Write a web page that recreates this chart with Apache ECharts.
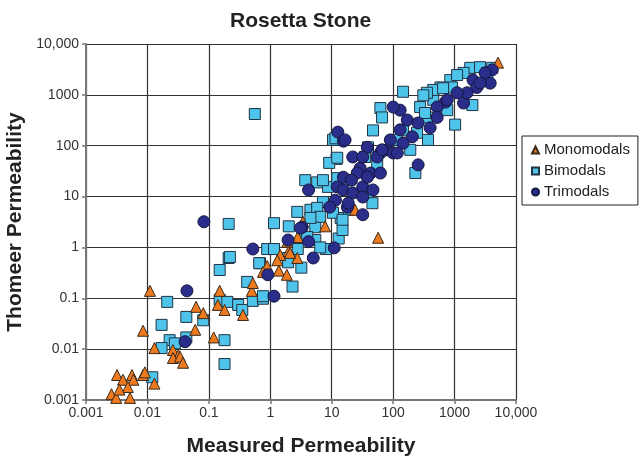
<!DOCTYPE html>
<html>
<head>
<meta charset="utf-8">
<script src="https://cdn.jsdelivr.net/npm/echarts@6/dist/echarts.min.js"></script>
<style>
  html, body { margin: 0; padding: 0; background: #fff; }
  #chart { width: 644px; height: 460px; }
</style>
</head>
<body>
<div id="chart"></div>
<script>
// [measured, thomeer] permeability pairs
const monomodals = [
    [0.0026,0.0013],[0.0031,0.0011],[0.0052,0.0011],[0.0032,0.0031],[0.004,0.0025],[0.0056,0.0031],
    [0.0059,0.0025],[0.0048,0.0018],[0.0085,0.0031],[0.0091,0.0035],[0.013,0.0021],[0.0035,0.0016],
    [0.011,0.14],[0.0085,0.023],[0.013,0.0105],[0.026,0.0096],[0.032,0.0076],[0.026,0.0067],
    [0.034,0.0071],[0.038,0.0054],[0.06,0.024],[0.12,0.017],[0.062,0.068],[0.081,0.051],
    [0.14,0.074],[0.18,0.059],[0.15,0.14],[0.36,0.047],[0.5,0.14],[0.89,0.43],[1.38,0.35],
    [1.86,0.29],[0.52,0.2],[2.75,0.62],[7.8,2.6],[24,5.5],[57,1.55],[5100,4300],[2.8,1.6],
    [2.0,0.85],[1.45,0.71],[1.3,0.56],[0.76,0.33],[2.1,0.78],[3.4,3.2],[1.9,1.3]
];
const bimodals = [
    [0.021,0.085],[0.043,0.043],[0.081,0.037],[0.017,0.03],[0.023,0.015],[0.028,0.013],[0.043,0.017],
    [0.017,0.0105],[0.012,0.0028],[0.18,0.015],[0.18,0.0051],[0.15,0.093],[0.2,0.085],[0.3,0.074],
    [0.35,0.059],[0.52,0.089],[0.76,0.098],[0.21,0.62],[0.15,0.36],[0.68,0.49],[0.42,0.21],
    [0.89,0.93],[1.15,0.93],[0.56,420],
    [0.21,2.9],[1.15,3.0],[2.0,2.6],[5.4,2.5],[2.8,0.93],[5.4,1.4],[8.1,0.93],[13,1.5],[0.22,0.65],
    [0.66,0.49],[1.95,0.62],[3.2,0.4],[2.3,0.17],[0.76,0.11],[12,55],[9.1,46],[10.5,130],[35,60],
    [18,21],[3.7,21],[5.8,19],[8.7,15.5],[38,11],[7.2,7.8],[2.75,5.0],[4.5,5.5],[5.8,6.0],[6.5,4.0],
    [14,3.8],[46,7.4],[10.5,4.8],[4.5,3.8],
    [1950,630],[450,800],[1800,3400],[2600,3500],[1400,2700],[850,1950],[590,1400],[450,1250],
    [355,1100],[910,1400],[145,1150],[1020,260],[760,500],[355,360],[275,575],[62,550],[66,360],
    [47,200],[245,180],[370,130],[190,83],[11.5,140],[12.3,58],[230,29],
    [1100,2450],[650,1350],[310,980],[330,440],[145,200],[115,130],[39,93],[55,42],[7.2,21],
    [12.3,23],[15,2.2],[3.7,1.55],[6.5,1.0],[19,5.5],[15,3.5],[4.0,1.6],[1.95,0.51],[3400,2700],[4100,3400]
];
const trimodals = [
    [0.044,0.14],[0.083,3.2],[0.041,0.014],[0.52,0.93],[0.91,0.29],[1.15,0.11],[3.3,2.5],[1.95,1.4],
    [4.2,1.3],[11,0.98],[5.0,0.62],[15.5,123],[22,60],[62,72],[80,83],[100,72],[38,93],[29,36],
    [26,29],[43,29],[62,29],[4.2,13.5],[12.3,15.5],[15.5,13.5],[22,11.7],[32,15.5],[47,13.5],
    [11.5,8.5],[9.3,6.2],[18,6.2],[32,4.4],[4100,3100],[3150,2700],[3800,1700],[2000,1950],
    [2300,1400],[1400,690],[710,720],[520,575],[520,360],[400,225],[130,500],[100,575],[170,320],
    [130,205],[205,150],[145,112],[90,130],[117,72],[12.6,185],[16.5,130],[55,60],[255,42],[38,24],
    [15.5,24],[18.6,7.4],[2600,1700],[1600,1100],[1100,1100],[760,800],[255,280],[66,83],[32,60],
    [21,21],[32,9.8],[3.1,2.4]
];
const seriesNames = ['Monomodals', 'Bimodals', 'Trimodals'];

function tickLabel(v) {
    if (v >= 9999) return '10,000';
    return String(+v.toPrecision(1));
}

const chart = echarts.init(document.getElementById('chart'));
const font = 'Liberation Sans, Arial, sans-serif';

function logAxis(name, nameGap, labelMargin) {
    return {
        type: 'log',
        logBase: 10,
        min: 0.001,
        max: 10000,
        splitNumber: 7,
        name: name,
        nameLocation: 'middle',
        nameGap: nameGap,
        nameTextStyle: { fontFamily: font, fontSize: 21, fontWeight: 'bold', color: '#222' },
        axisLine: { lineStyle: { color: '#777', width: 2 } },
        axisTick: { show: true, length: 4, lineStyle: { color: '#777', width: 1.5 } },
        minorTick: { show: false },
        axisLabel: { fontFamily: font, fontSize: 14, color: '#333', margin: labelMargin, formatter: tickLabel },
        splitLine: { show: true, lineStyle: { color: '#333', width: 1.2 } }
    };
}

const option = {
    animation: false,
    title: {
        text: 'Rosetta Stone',
        left: 225,
        top: 6,
        textStyle: { fontFamily: font, fontSize: 21, fontWeight: 'bold', color: '#222' }
    },
    grid: { left: 86, right: 128, top: 44, bottom: 60, outerBoundsMode: 'none' },
    legend: {
        data: seriesNames,
        orient: 'vertical',
        left: 522,
        top: 136,
        padding: [6, 8, 5, 9],
        itemGap: 5,
        itemWidth: 7,
        itemHeight: 7,
        borderColor: '#222',
        borderWidth: 1,
        backgroundColor: '#fff',
        textStyle: { fontFamily: font, fontSize: 15, color: '#222', lineHeight: 16 }
    },
    xAxis: logAxis('Measured Permeability', 36, 6),
    yAxis: logAxis('Thomeer Permeability', 54, 7),
    series: [
        {
            name: 'Bimodals',
            type: 'scatter',
            symbol: 'rect',
            symbolSize: 11,
            data: bimodals,
            itemStyle: { color: '#4fc4ea', borderColor: '#223344', borderWidth: 1, opacity: 1 }
        },
        {
            name: 'Monomodals',
            type: 'scatter',
            symbol: 'triangle',
            symbolSize: 11,
            data: monomodals,
            itemStyle: { color: '#ee7a1f', borderColor: '#3a2a1a', borderWidth: 1, opacity: 1 }
        },
        {
            name: 'Trimodals',
            type: 'scatter',
            symbol: 'circle',
            symbolSize: 12,
            data: trimodals,
            itemStyle: { color: '#2a2d8a', borderColor: '#15173f', borderWidth: 1, opacity: 1 }
        }
    ]
};
chart.setOption(option);
</script>
</body>
</html>
